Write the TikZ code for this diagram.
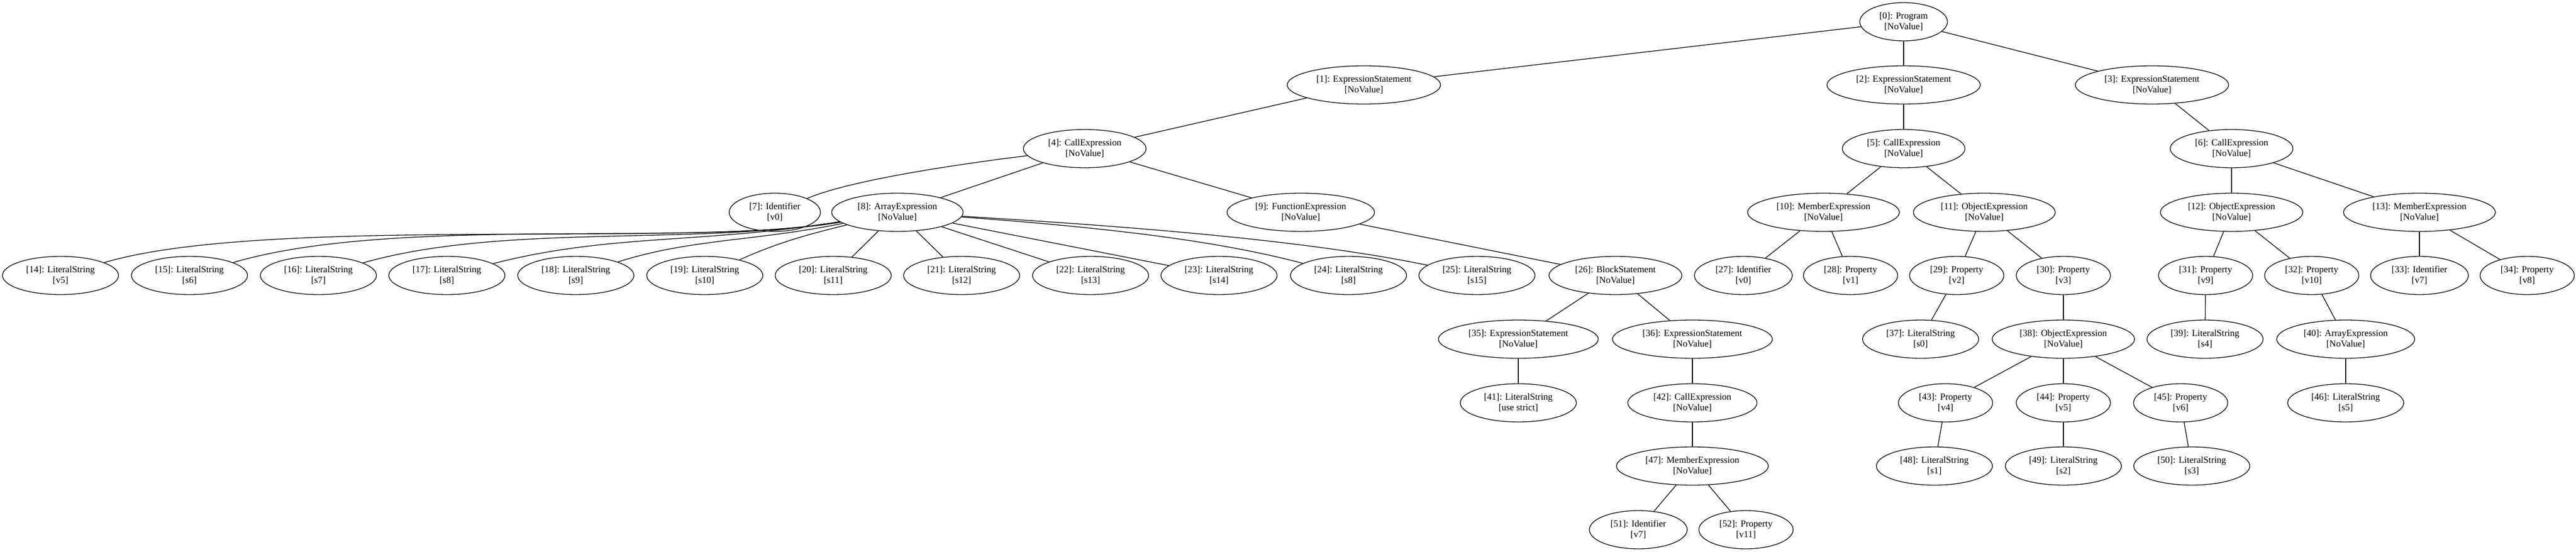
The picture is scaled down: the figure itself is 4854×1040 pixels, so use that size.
\documentclass[tikz,border=0pt]{standalone}
\usepackage{fontspec}
\setmainfont{Liberation Serif}
\usetikzlibrary{shapes.geometric}
\newcommand{\mknode}[5]{\node[treenode] (n#1) at (#2,#3) {[#1]: #4\\{}[#5]};}
\begin{document}
\begin{tikzpicture}[x=1pt,y=-1pt,
  treenode/.style={ellipse, draw, line width=1.3pt, inner xsep=12.7pt, inner ysep=7pt,
    minimum height=72pt, align=center, font=\fontsize{17.5}{20}\selectfont},
  edge/.style={line width=1.3pt}]
\useasboundingbox (0,0) rectangle (4854,1040);
\mknode{0}{3587}{41}{Program}{NoValue}
\mknode{1}{2570}{160}{ExpressionStatement}{NoValue}
\mknode{2}{3587}{160}{ExpressionStatement}{NoValue}
\mknode{3}{4055}{160}{ExpressionStatement}{NoValue}
\mknode{4}{2044}{280}{CallExpression}{NoValue}
\mknode{5}{3587}{280}{CallExpression}{NoValue}
\mknode{6}{4205}{280}{CallExpression}{NoValue}
\mknode{7}{1460}{400}{Identifier}{v0}
\mknode{8}{1691}{400}{ArrayExpression}{NoValue}
\mknode{9}{2451}{400}{FunctionExpression}{NoValue}
\mknode{10}{3436}{400}{MemberExpression}{NoValue}
\mknode{11}{3739}{400}{ObjectExpression}{NoValue}
\mknode{12}{4205}{400}{ObjectExpression}{NoValue}
\mknode{13}{4559}{400}{MemberExpression}{NoValue}
\mknode{14}{114}{519}{LiteralString}{v5}
\mknode{15}{357}{519}{LiteralString}{s6}
\mknode{16}{600}{519}{LiteralString}{s7}
\mknode{17}{842}{519}{LiteralString}{s8}
\mknode{18}{1085}{519}{LiteralString}{s9}
\mknode{19}{1328}{519}{LiteralString}{s10}
\mknode{20}{1570}{519}{LiteralString}{s11}
\mknode{21}{1812}{519}{LiteralString}{s12}
\mknode{22}{2055}{519}{LiteralString}{s13}
\mknode{23}{2297}{519}{LiteralString}{s14}
\mknode{24}{2541}{519}{LiteralString}{s8}
\mknode{25}{2783}{519}{LiteralString}{s15}
\mknode{26}{3044}{519}{BlockStatement}{NoValue}
\mknode{27}{3285}{519}{Identifier}{v0}
\mknode{28}{3487}{519}{Property}{v1}
\mknode{29}{3687}{519}{Property}{v2}
\mknode{30}{3888}{519}{Property}{v3}
\mknode{31}{4156}{519}{Property}{v9}
\mknode{32}{4356}{519}{Property}{v10}
\mknode{33}{4559}{519}{Identifier}{v7}
\mknode{34}{4762}{519}{Property}{v8}
\mknode{35}{2861}{639}{ExpressionStatement}{NoValue}
\mknode{36}{3189}{639}{ExpressionStatement}{NoValue}
\mknode{37}{3619}{639}{LiteralString}{s0}
\mknode{38}{3888}{639}{ObjectExpression}{NoValue}
\mknode{39}{4155}{639}{LiteralString}{s4}
\mknode{40}{4420}{639}{ArrayExpression}{NoValue}
\mknode{41}{2861}{759}{LiteralString}{use strict}
\mknode{42}{3189}{759}{CallExpression}{NoValue}
\mknode{43}{3666}{759}{Property}{v4}
\mknode{44}{3888}{759}{Property}{v5}
\mknode{45}{4109}{759}{Property}{v6}
\mknode{46}{4420}{759}{LiteralString}{s5}
\mknode{47}{3189}{878}{MemberExpression}{NoValue}
\mknode{48}{3645}{878}{LiteralString}{s1}
\mknode{49}{3888}{878}{LiteralString}{s2}
\mknode{50}{4130}{878}{LiteralString}{s3}
\mknode{51}{3087}{998}{Identifier}{v7}
\mknode{52}{3290}{998}{Property}{v11}
% straight edges
\foreach \a/\b in {0/1,0/2,0/3,1/4,2/5,3/6,4/8,4/9,5/10,5/11,6/12,6/13,
  8/20,8/21,8/22,8/23,9/26,10/27,10/28,11/29,11/30,12/31,12/32,13/33,13/34,
  26/35,26/36,29/37,30/38,31/39,32/40,35/41,36/42,38/43,38/44,38/45,40/46,
  42/47,43/48,44/49,45/50,47/51,47/52}
  \draw[edge] (n\a) -- (n\b);
% curved edges
\draw[edge] (n4) .. controls (1800,310) and (1600,340) .. (n7);
\draw[edge] (n8) .. controls (1300,468) and (500,405) .. (n14);
\draw[edge] (n8) .. controls (1300,466) and (743,405) .. (n15);
\draw[edge] (n8) .. controls (1300,464) and (950,420) .. (n16);
\draw[edge] (n8) .. controls (1320,460) and (1150,440) .. (n17);
\draw[edge] (n8) .. controls (1420,455) and (1300,450) .. (n18);
\draw[edge] (n8) .. controls (1530,440) and (1470,455) .. (n19);
\draw[edge] (n8) .. controls (2100,430) and (2300,455) .. (n24);
\draw[edge] (n8) .. controls (2100,425) and (2450,450) .. (n25);
\end{tikzpicture}
\end{document}
